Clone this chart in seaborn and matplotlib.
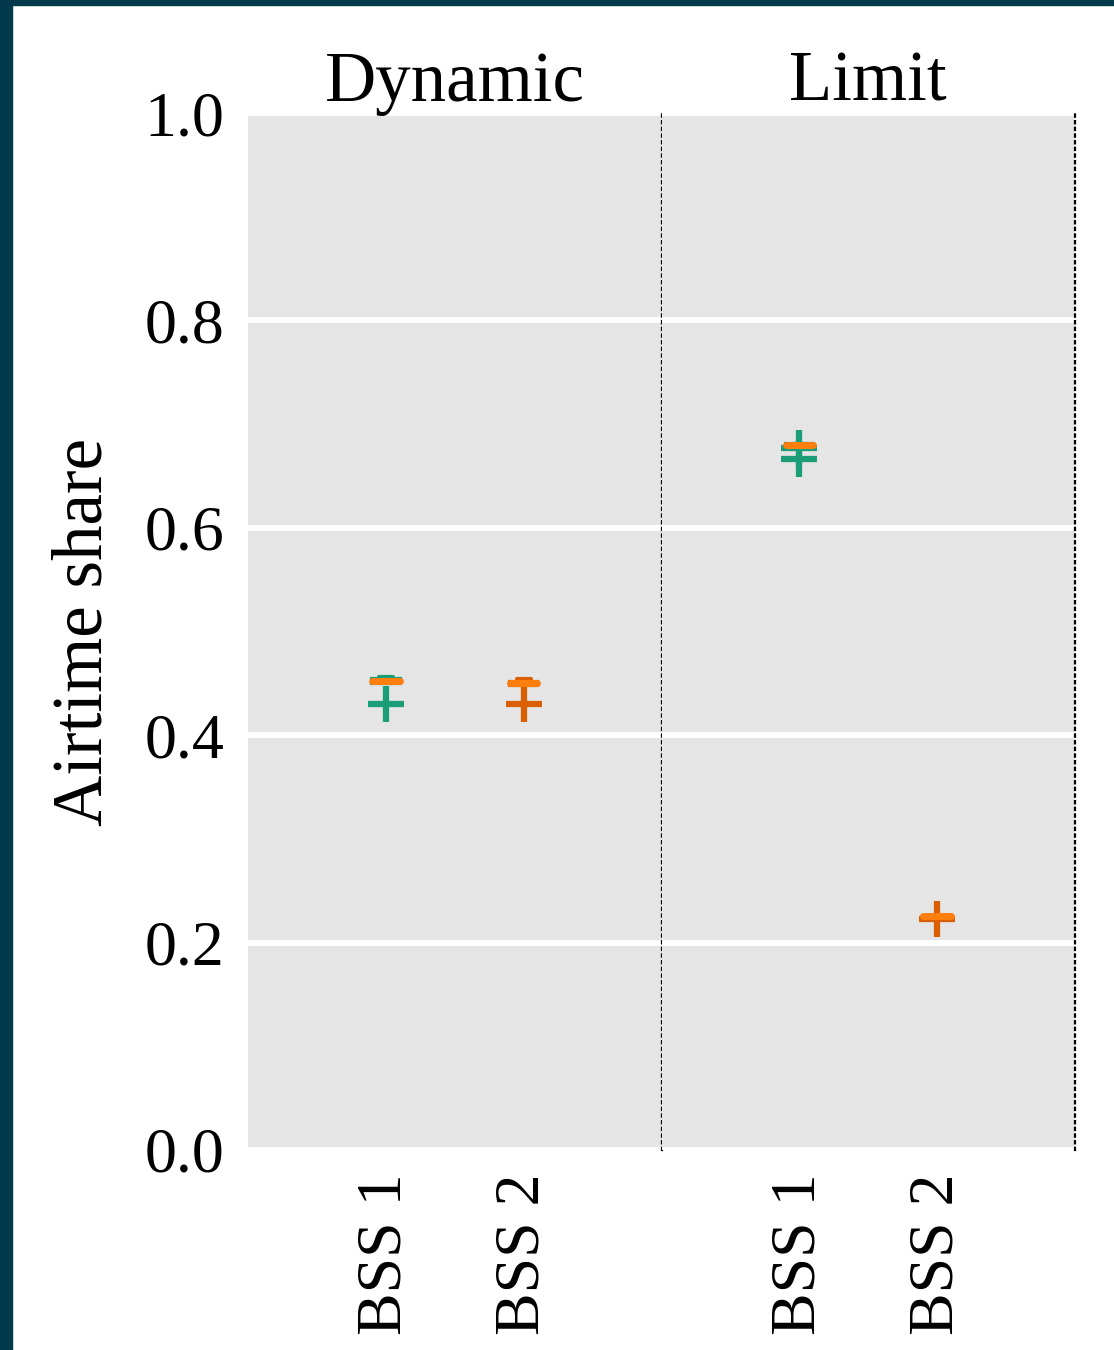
import numpy as np
import pandas as pd
import matplotlib
matplotlib.use("Agg")
import matplotlib.pyplot as plt
import seaborn as sns
from matplotlib.patches import Rectangle

# ---- data ----
schemes = ["Dynamic", "Limit"]
bss_labels = ["BSS 1", "BSS 2"]
bss_colors = ["#1b9e77", "#d95f02"]
median_color = "#ff7f0e"

dynamic_bss1 = [0.450, 0.452, 0.453, 0.455, 0.456, 0.430]
dynamic_bss2 = [0.448, 0.449, 0.451, 0.452, 0.454, 0.430]
limit_bss1 = [0.6795, 0.680, 0.680, 0.680, 0.6805, 0.6805, 0.681, 0.677, 0.666]
limit_bss2 = [0.225, 0.2255, 0.2255, 0.226, 0.226, 0.2225]

samples = {
    ("Dynamic", "BSS 1"): dynamic_bss1,
    ("Dynamic", "BSS 2"): dynamic_bss2,
    ("Limit", "BSS 1"): limit_bss1,
    ("Limit", "BSS 2"): limit_bss2,
}

yticks = [0.0, 0.2, 0.4, 0.6, 0.8, 1.0]
ytick_labels = ["0.0", "0.2", "0.4", "0.6", "0.8", "1.0"]

sns.set_style("white")
plt.rcParams["font.family"] = ["Liberation Serif", "DejaVu Serif"]
plt.rcParams["text.color"] = "black"
plt.rcParams["axes.labelcolor"] = "black"
plt.rcParams["xtick.color"] = "black"
plt.rcParams["ytick.color"] = "black"

W, H, DPI = 1114, 1350, 100
fig = plt.figure(figsize=(W / DPI, H / DPI), dpi=DPI)
fig.patch.set_facecolor("white")

left, right = 248 / W, 1075 / W
bottom, top = 1 - 1150 / H, 1 - 113 / H
aw = (right - left) / 2
axes = [fig.add_axes([left, bottom, aw, top - bottom]),
        fig.add_axes([left + aw, bottom, aw, top - bottom])]

FS_TICK = 46
FS_TITLE = 51
for i, (ax, scheme) in enumerate(zip(axes, schemes)):
    ax.set_facecolor("#e5e5e5")
    for bss, col in zip(bss_labels, bss_colors):
        vals = samples[(scheme, bss)]
        df = pd.DataFrame({"bss": [bss] * len(vals), "share": vals})
        sns.boxplot(data=df, x="bss", y="share", order=bss_labels, ax=ax,
                    color=col, linecolor=col, saturation=1, width=0.2,
                    linewidth=3, fliersize=26,
                    flierprops=dict(marker="+", markeredgewidth=4.5),
                    medianprops=dict(color=median_color, linewidth=5,
                                     solid_capstyle="round"))
    ax.set_xlim(-1, 2)
    ax.set_ylim(0, 1)
    ax.set_yticks(yticks)
    ax.grid(axis="y", color="white", linewidth=4.2)
    ax.grid(axis="x", visible=False)
    ax.set_axisbelow(True)
    for s in ["left", "top", "bottom"]:
        ax.spines[s].set_visible(False)
    ax.spines["right"].set_visible(True)
    ax.spines["right"].set_linestyle((0, (1, 2)))
    ax.spines["right"].set_color("black")
    ax.spines["right"].set_linewidth(1.6)
    ax.set_xlabel("")
    ax.set_xticks([0, 1])
    ax.set_xticklabels(bss_labels, rotation=90, fontsize=FS_TICK)
    ax.tick_params(axis="x", length=0, pad=17)
    ax.set_title(scheme, fontsize=FS_TITLE, pad=9, color="black")
    if i == 0:
        ax.set_yticklabels(ytick_labels, fontsize=FS_TICK)
        ax.tick_params(axis="y", length=0, pad=17)
        ax.set_ylabel("Airtime share", fontsize=FS_TITLE, labelpad=20)
    else:
        ax.tick_params(axis="y", length=0, labelleft=False)
        ax.set_ylabel("")

# dark frame at left and top edges
border = "#023a4c"
fig.patches.append(Rectangle((0, 0), 12 / W, 1, transform=fig.transFigure,
                             color=border, zorder=10))
fig.patches.append(Rectangle((0, 1 - 5 / H), 1, 5 / H, transform=fig.transFigure,
                             color=border, zorder=10))

fig.savefig("out.png", dpi=DPI)
